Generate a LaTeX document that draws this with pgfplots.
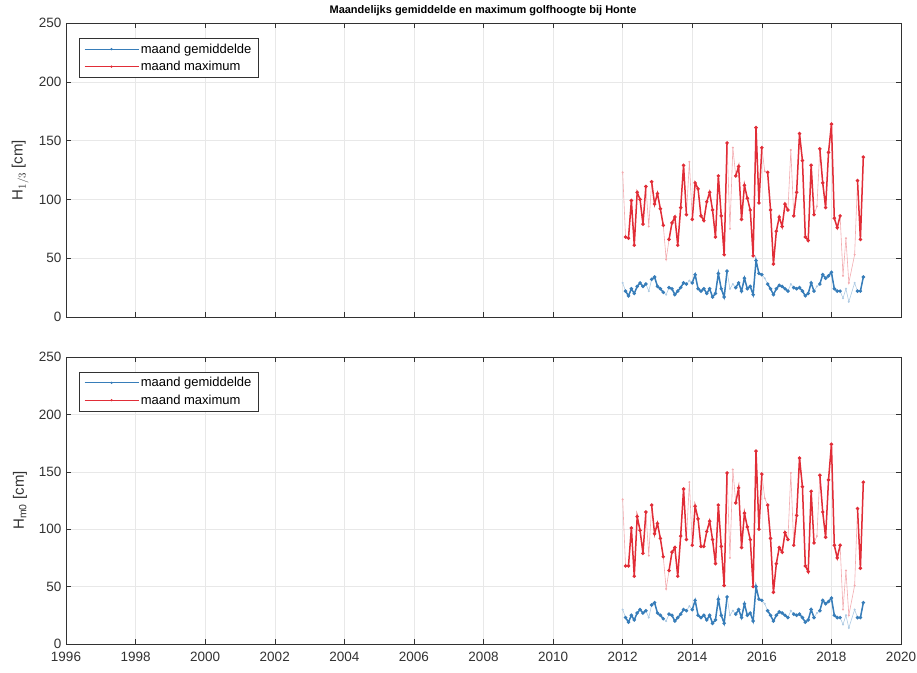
\documentclass[border=0pt]{standalone}
\usepackage{fontspec}
\setmainfont{Liberation Sans}
\usepackage{pgfplots}
\usepackage{pgfplotstable}
\pgfplotsset{compat=1.18}

\definecolor{mblue}{RGB}{55,125,185}
\definecolor{mred}{RGB}{225,45,55}
\definecolor{axgray}{RGB}{50,50,50}

% t = decimal year, q = 1 complete month / 0 incomplete
% g1,m1 = H1/3 mean, max ; g2,m2 = Hm0 mean, max  [cm]
\pgfplotstableread{
t q g1 m1 g2 m2
2012.000 0 29 123 30 126
2012.083 1 22 68 23 68
2012.167 1 18 67 19 68
2012.250 1 24 99 25 101
2012.333 1 20 61 21 59
2012.417 1 26 106 27 111
2012.500 1 29 100 30 99
2012.583 1 26 79 27 79
2012.667 1 28 111 29 115
2012.750 0 22 77 23 77
2012.833 1 32 115 34 121
2012.917 1 34 96 36 96
2013.000 1 26 105 27 105
2013.083 1 24 92 25 92
2013.167 1 21 78 22 76
2013.250 0 19 49 20 48
2013.333 1 25 66 26 64
2013.417 1 24 80 25 80
2013.500 1 19 85 20 84
2013.583 1 22 61 23 59
2013.667 1 25 93 26 94
2013.750 1 29 129 30 135
2013.833 1 28 87 29 91
2013.917 0 31 132 33 141
2014.000 1 29 83 30 86
2014.083 1 36 114 38 120
2014.167 1 24 109 25 109
2014.250 1 22 86 23 85
2014.333 1 24 82 25 85
2014.417 1 20 98 21 98
2014.500 1 24 106 25 107
2014.583 1 17 91 18 91
2014.667 1 20 68 21 70
2014.750 1 37 120 39 121
2014.833 1 24 86 25 85
2014.917 1 17 53 18 51
2015.000 1 39 148 41 149
2015.083 0 24 75 25 75
2015.167 0 28 144 29 152
2015.250 1 25 120 26 123
2015.333 1 29 128 30 136
2015.417 1 22 83 23 84
2015.500 1 33 112 35 114
2015.583 1 24 101 25 102
2015.667 1 26 91 27 91
2015.750 1 19 52 20 50
2015.833 1 48 161 50 168
2015.917 1 37 97 39 100
2016.000 1 36 144 38 148
2016.083 0 33 124 35 127
2016.167 1 28 123 29 121
2016.250 1 24 91 25 92
2016.333 1 19 45 20 45
2016.417 1 24 73 25 70
2016.500 1 27 85 28 84
2016.583 1 26 77 27 80
2016.667 1 24 96 25 97
2016.750 1 22 91 23 91
2016.833 0 28 142 29 149
2016.917 1 25 86 26 86
2017.000 1 24 106 25 112
2017.083 1 25 156 26 162
2017.167 1 22 133 23 137
2017.250 1 18 68 19 68
2017.333 1 20 65 21 63
2017.417 1 29 129 30 133
2017.500 1 22 87 23 88
2017.583 0 26 94 27 94
2017.667 1 28 143 29 147
2017.750 1 36 114 38 115
2017.833 1 33 93 35 93
2017.917 1 35 140 37 143
2018.000 1 38 164 40 174
2018.083 1 24 84 25 86
2018.167 1 22 76 23 75
2018.250 1 22 86 23 86
2018.333 0 16 35 17 30
2018.417 0 24 67 25 64
2018.500 0 13 29 14 25
2018.667 0 29 53 30 51
2018.750 1 22 116 23 118
2018.833 1 22 66 23 66
2018.917 1 34 136 36 141
}\golf

\pgfplotsset{
golfaxis/.style={
  width=835pt, scale only axis,
  xmin=1996, xmax=2020, ymin=0, ymax=250,
  xtick distance=2, ytick distance=50,
  grid=major, major grid style={gray!18, thin},
  tick align=inside, major tick length=5pt,
  axis line style={axgray}, tick style={axgray, thin},
  every tick label/.append style={font=\fontsize{13.5}{15}\selectfont, text=axgray},
  xticklabel style={yshift=-5pt},
  yticklabel style={xshift=-1pt},
  /pgf/number format/assume math mode=true,
  /pgf/number format/1000 sep={},
  unbounded coords=jump,
  ylabel style={at={(axis description cs:-0.055,0.5)}, anchor=center,
    font=\fontsize{15}{17}\selectfont, text=axgray},
  legend style={at={(0.0156,0.949)}, anchor=north west, draw=axgray, thin,
    font=\fontsize{13}{15}\selectfont, inner xsep=5pt, inner ysep=3.5pt,
    row sep=2.5pt},
  legend cell align=left,
  legend image code/.code={
    \draw[mark repeat=2, mark phase=2, #1]
      plot coordinates {(0pt,0pt) (27pt,0pt) (54pt,0pt)};},
},
light/.style={line width=0.6pt, mark=*, mark size=0.7pt, forget plot},
bold/.style={line width=1.5pt, mark=*, mark size=0.9pt, forget plot},
}

\begin{document}
\begin{tikzpicture}
\useasboundingbox (0,0) rectangle (917pt,672pt);

\node[font=\bfseries\fontsize{11}{12}\selectfont] at (483pt,661pt)
  {Maandelijks gemiddelde en maximum golfhoogte bij Honte};

\begin{axis}[golfaxis, at={(66pt,355pt)}, anchor=south west, height=294pt,
  xticklabel=\empty, ylabel={H$_{1/3}$ [cm]}]
\addlegendimage{mblue, semithick, mark=*, mark size=0.8pt}
\addlegendentry{maand gemiddelde}
\addlegendimage{mred, semithick, mark=*, mark size=0.8pt}
\addlegendentry{maand maximum}
\addplot[light, mred!40, mark options={mred!40}] table[x=t, y=m1] {\golf};
\addplot[light, mblue!40, mark options={mblue!40}] table[x=t, y=g1] {\golf};
\addplot[bold, mred, restrict expr to domain={\thisrow{q}}{0.5:1.5}] table[x=t, y=m1] {\golf};
\addplot[bold, mblue, restrict expr to domain={\thisrow{q}}{0.5:1.5}] table[x=t, y=g1] {\golf};
\end{axis}

\begin{axis}[golfaxis, at={(66pt,28pt)}, anchor=south west, height=287pt,
  ylabel={H$_{\mathrm{m0}}$ [cm]}]
\addlegendimage{mblue, semithick, mark=*, mark size=0.8pt}
\addlegendentry{maand gemiddelde}
\addlegendimage{mred, semithick, mark=*, mark size=0.8pt}
\addlegendentry{maand maximum}
\addplot[light, mred!40, mark options={mred!40}] table[x=t, y=m2] {\golf};
\addplot[light, mblue!40, mark options={mblue!40}] table[x=t, y=g2] {\golf};
\addplot[bold, mred, restrict expr to domain={\thisrow{q}}{0.5:1.5}] table[x=t, y=m2] {\golf};
\addplot[bold, mblue, restrict expr to domain={\thisrow{q}}{0.5:1.5}] table[x=t, y=g2] {\golf};
\end{axis}
\end{tikzpicture}
\end{document}
